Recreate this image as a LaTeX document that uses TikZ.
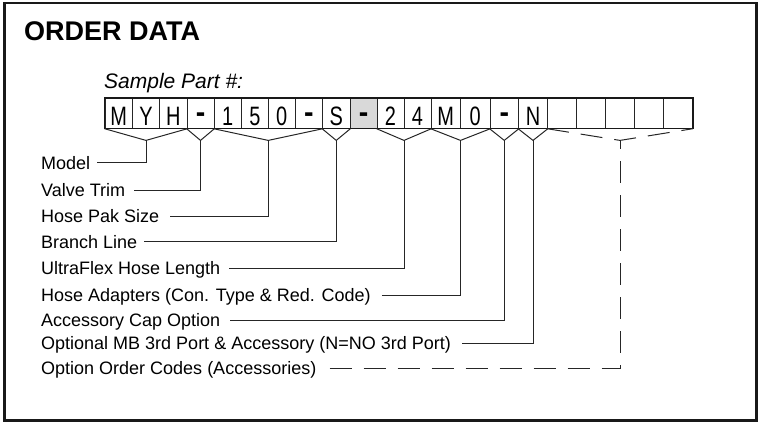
\documentclass[tikz,border=0pt]{standalone}
\usepackage{fontspec}
\setmainfont{Liberation Sans}
\usepackage{graphicx}
\usetikzlibrary{calc}
\newcommand\ltr[1]{\scalebox{1.05}[1.4]{#1}}
\newcommand\hy{\raisebox{3pt}{\scalebox{1.5}[1.6]{\bfseries -}}}
\begin{document}
\begin{tikzpicture}[x=1pt,y=-1pt,
  cell/.style={draw=black!85, line width=0.8pt, inner sep=0pt, minimum height=30pt,
     text height=26.7pt, text depth=3.3pt, font=\fontsize{19}{22}\selectfont},
  lbl/.style={anchor=west, inner sep=0pt, text height=12.9pt, text depth=0pt,
     font=\fontsize{18}{21}\selectfont},
  conn/.style={draw=black!85, line width=1pt},
  dconn/.style={conn, dash pattern=on 22pt off 12pt}]
\useasboundingbox (0,0) rectangle (758,423);
\draw[line width=2.4pt, black!90] (4.5,3) rectangle (756.5,420.5);

\node[anchor=base west, inner sep=0pt, font=\bfseries\fontsize{27}{30}\selectfont] (title) at (24,40.5) {ORDER DATA};
\node[anchor=base west, inner sep=0pt, font=\itshape\fontsize{21}{26}\selectfont] (sample) at (104,88.5) {Sample Part \#:};

% cells
\node[cell, minimum width=27.5pt] (c1) at (118.75,113.3) {\ltr{M}};
\node[cell, minimum width=27pt] (c2) at (146,113.3) {\ltr{Y}};
\node[cell, minimum width=27.5pt] (c3) at (173.25,113.3) {\ltr{H}};
\node[cell, minimum width=27pt] (c4) at (200.5,113.3) {\hy};
\node[cell, minimum width=27.5pt] (c5) at (227.75,113.3) {\ltr{1}};
\node[cell, minimum width=27pt] (c6) at (255,113.3) {\ltr{5}};
\node[cell, minimum width=26.5pt] (c7) at (281.75,113.3) {\ltr{0}};
\node[cell, minimum width=27.5pt] (c8) at (308.75,113.3) {\hy};
\node[cell, minimum width=27.5pt] (c9) at (336.25,113.3) {\ltr{S}};
\node[cell, minimum width=27pt, fill=black!15] (c10) at (363.5,113.3) {\hy};
\node[cell, minimum width=27pt] (c11) at (390.5,113.3) {\ltr{2}};
\node[cell, minimum width=27pt] (c12) at (417.5,113.3) {\ltr{4}};
\node[cell, minimum width=29.5pt] (c13) at (445.75,113.3) {\ltr{M}};
\node[cell, minimum width=29.5pt] (c14) at (475.25,113.3) {\ltr{0}};
\node[cell, minimum width=28.5pt] (c15) at (504.25,113.3) {\hy};
\node[cell, minimum width=29pt] (c16) at (533,113.3) {\ltr{N}};
\node[cell, minimum width=29pt] (c17) at (562,113.3) {};
\node[cell, minimum width=29pt] (c18) at (591,113.3) {};
\node[cell, minimum width=29pt] (c19) at (620,113.3) {};
\node[cell, minimum width=29pt] (c20) at (649,113.3) {};
\node[cell, minimum width=29pt] (c21) at (678,113.3) {};
\draw[line width=1.5pt, black!90] (c1.north west) rectangle (c21.south east);

% brace vertices
\coordinate (v1) at ($(c1.south west)!0.5!(c3.south east)+(0,11.7)$);
\coordinate (v2) at ($(c4.south west)!0.5!(c4.south east)+(0,11.7)$);
\coordinate (v3) at ($(c5.south west)!0.5!(c8.south east)+(0,11.7)$);
\coordinate (v4) at ($(c9.south west)!0.5!(c9.south east)+(0,11.7)$);
\coordinate (v5) at ($(c11.south west)!0.5!(c12.south east)+(0,11.7)$);
\coordinate (v6) at ($(c13.south west)!0.5!(c14.south east)+(0,11.7)$);
\coordinate (v7) at ($(c15.south west)!0.5!(c15.south east)+(0,11.7)$);
\coordinate (v8) at ($(c16.south west)!0.5!(c16.south east)+(0,11.7)$);
\coordinate (v9) at ($(c17.south west)!0.5!(c21.south east)+(0,11.7)$);

\draw[conn] (c1.south west) -- (v1) -- (c3.south east);
\draw[conn] (c4.south west) -- (v2) -- (c4.south east);
\draw[conn] (c5.south west) -- (v3) -- (c8.south east);
\draw[conn] (c9.south west) -- (v4) -- (c9.south east);
\draw[conn] (c11.south west) -- (v5) -- (c12.south east);
\draw[conn] (c13.south west) -- (v6) -- (c14.south east);
\draw[conn] (c15.south west) -- (v7) -- (c15.south east);
\draw[conn] (c16.south west) -- (v8) -- (c16.south east);
\draw[dconn] (c17.south west) -- (v9) -- (c21.south east);

% labels
\node[lbl] (l1) at (41,162.7) {Model};
\node[lbl] (l2) at (41,190) {Valve Trim};
\node[lbl] (l3) at (41,216) {Hose Pak Size};
\node[lbl] (l4) at (41,241.7) {Branch Line};
\node[lbl] (l5) at (41,268) {UltraFlex Hose Length};
\node[lbl] (l6) at (41,295) {Hose Adapters (Con. Type \& Red. Code)};
\node[lbl] (l7) at (41,320) {Accessory Cap Option};
\node[lbl] (l8) at (41,343.3) {Optional MB 3rd Port \& Accessory (N=NO 3rd Port)};
\node[lbl] (l9) at (41,368.3) {Option Order Codes (Accessories)};

\draw[conn] ([xshift=7pt]l1.east) -- (l1.east -| v1) -- (v1);
\draw[conn] ([xshift=9pt]l2.east) -- (l2.east -| v2) -- (v2);
\draw[conn] ([xshift=11pt]l3.east) -- (l3.east -| v3) -- (v3);
\draw[conn] ([xshift=7pt]l4.east) -- (l4.east -| v4) -- (v4);
\draw[conn] ([xshift=9pt]l5.east) -- (l5.east -| v5) -- (v5);
\draw[conn] ([xshift=11pt]l6.east) -- (l6.east -| v6) -- (v6);
\draw[conn] ([xshift=10pt]l7.east) -- (l7.east -| v7) -- (v7);
\draw[conn] ([xshift=11pt]l8.east) -- (l8.east -| v8) -- (v8);
\draw[dconn] ([xshift=13pt]l9.east) -- (l9.east -| v9) -- (v9);
\end{tikzpicture}
\end{document}
